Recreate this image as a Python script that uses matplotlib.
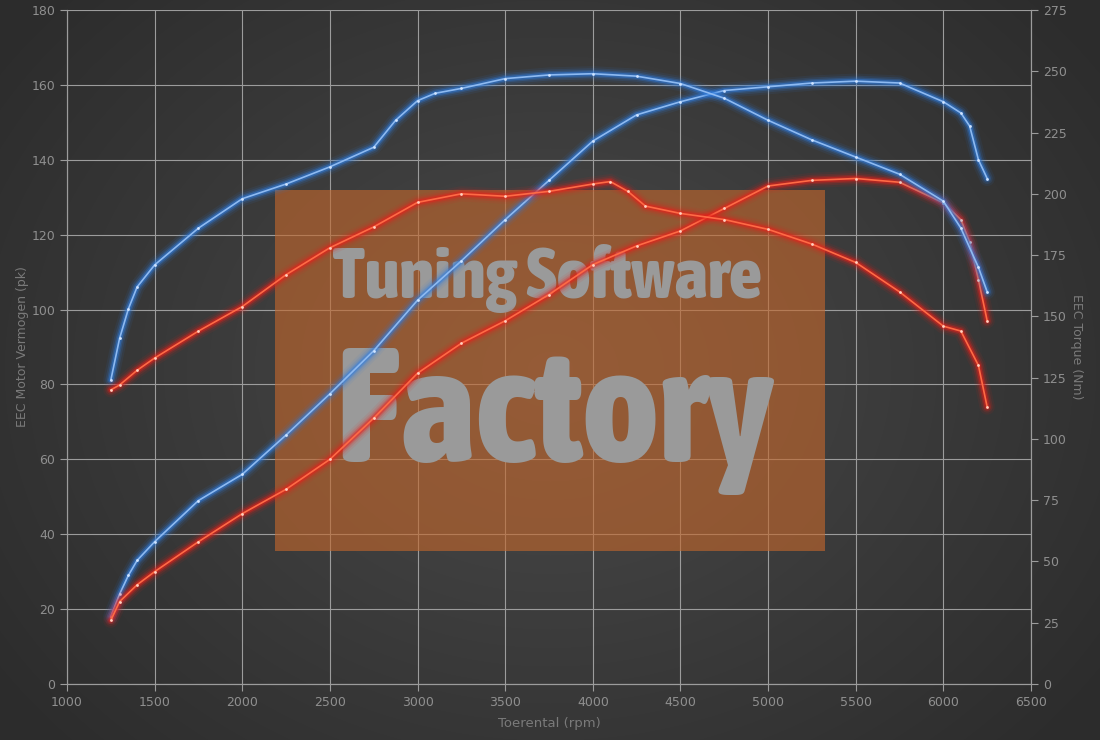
import numpy as np
import matplotlib
matplotlib.use("Agg")
import matplotlib.pyplot as plt
from matplotlib.patches import Rectangle
from matplotlib import font_manager as fm

# ---- data ----
rpm_blue_pwr = [1250, 1300, 1350, 1400, 1500, 1750, 2000, 2250, 2500, 2750, 3000, 3250, 3500, 3750,
                4000, 4250, 4500, 4750, 5000, 5250, 5500, 5750, 6000, 6100, 6150, 6200, 6250]
blue_pwr = [18, 24, 29, 33, 38, 49, 56, 66.5, 77.5, 89, 102.5, 113, 124, 134.5,
            145, 152, 155.5, 158.5, 159.5, 160.5, 161, 160.5, 155.5, 152.5, 149, 140, 135]

rpm_blue_trq = [1250, 1300, 1350, 1400, 1500, 1750, 2000, 2250, 2500, 2750, 2875, 3000, 3100, 3250,
                3500, 3750, 4000, 4250, 4500, 4750, 5000, 5250, 5500, 5750, 6000, 6100, 6200, 6250]
blue_trq = [124, 141, 153, 162, 171, 186, 198, 204, 211, 219, 230, 238, 241, 243,
            247, 248.5, 249, 248, 245, 239, 230, 222, 215, 208, 197, 186, 170, 160]

rpm_red_pwr = [1250, 1300, 1400, 1500, 1750, 2000, 2250, 2500, 2750, 3000, 3250, 3500, 3750,
               4000, 4250, 4500, 4750, 5000, 5250, 5500, 5750, 6000, 6100, 6150, 6200, 6250]
red_pwr = [17, 22, 26.5, 30, 38, 45.5, 52, 60, 71, 83, 91, 97, 104,
           112, 117, 121, 127, 133, 134.5, 135, 134, 128.5, 124, 118, 108, 97]

rpm_red_trq = [1250, 1300, 1400, 1500, 1750, 2000, 2250, 2500, 2750, 3000, 3250, 3500, 3750,
               4000, 4100, 4200, 4300, 4500, 4750, 5000, 5250, 5500, 5750, 6000, 6100, 6200, 6250]
red_trq = [120, 122, 128, 133, 144, 154, 167, 178, 186.5, 196.5, 200, 199, 201,
           204, 205, 201, 195, 192, 189.5, 185.5, 179.5, 172, 160, 146, 144, 130, 113]

x_ticks = list(range(1000, 6501, 500))
left_ticks = list(range(0, 181, 20))
right_ticks = list(range(0, 276, 25))

x_label = "Toerental (rpm)"
left_label = "EEC Motor Vermogen (pk)"
right_label = "EEC Torque (Nm)"
wm_line1 = "Tuning Software"
wm_line2 = "Factory"

# ---- figure ----
W, H = 1100, 740
fig = plt.figure(figsize=(W / 100, H / 100), dpi=100)

# radial gradient background
bg = fig.add_axes([0, 0, 1, 1], zorder=-10)
yy, xx = np.mgrid[0:H, 0:W]
r = np.sqrt(((xx - W * 0.5) / (W * 0.62)) ** 2 + ((yy - H * 0.5) / (H * 0.75)) ** 2)
r = np.clip(r, 0, 1)
c0 = np.array([0x4a, 0x4a, 0x4a]) / 255
c1 = np.array([0x2c, 0x2c, 0x2c]) / 255
img = c0[None, None, :] * (1 - r[..., None]) + c1[None, None, :] * r[..., None]
bg.imshow(img, aspect="auto", extent=[0, 1, 0, 1])
bg.set_axis_off()

L, R, B, T = 67 / W, 1031 / W, (H - 684) / H, (H - 10) / H
ax = fig.add_axes([L, B, R - L, T - B])
ax.patch.set_alpha(0)
ax2 = ax.twinx()
ax2.patch.set_alpha(0)

grid_c = "#9c9c9c"
tick_c = "#8f8f8f"
lab_c = "#7a7a7a"

ax.set_xlim(1000, 6500)
ax.set_ylim(0, 180)
ax2.set_ylim(0, 275)
ax.set_xticks(x_ticks)
ax.set_yticks(left_ticks)
ax2.set_yticks(right_ticks)
ax.grid(True, color=grid_c, linewidth=0.8, zorder=0)
ax.set_axisbelow(True)

for a in (ax, ax2):
    for s in a.spines.values():
        s.set_color(grid_c)
        s.set_linewidth(0.8)
    a.spines["top"].set_visible(False)
    a.tick_params(colors=grid_c, labelcolor=tick_c, labelsize=9, length=5, width=0.8)

ax.set_xlabel(x_label, color=lab_c, fontsize=9.5, labelpad=6)
ax.set_ylabel(left_label, color=lab_c, fontsize=9, labelpad=2)
ax2.set_ylabel(right_label, color=lab_c, fontsize=9, rotation=270, labelpad=12)

# watermark
rect = Rectangle((0.2158, 0.197), 0.570, 0.536, transform=ax.transAxes,
                 facecolor="#c4672c", alpha=0.62, edgecolor="none", zorder=1)
ax.add_patch(rect)


def pick_condensed():
    keys = ("condensed", "narrow", "compressed")
    cands = []
    for f in fm.fontManager.ttflist:
        fn = f.fname.lower()
        if any(k in fn for k in keys) and "oblique" not in fn and "italic" not in fn:
            w = f.weight if isinstance(f.weight, int) else 400
            cands.append((abs(w - 800), f.fname))
    if cands:
        cands.sort()
        return fm.FontProperties(fname=cands[0][1])
    return fm.FontProperties(family=["Roboto", "DejaVu Sans"], weight="bold")


wm_fp = pick_condensed()

t1 = ax.text(333 / W, (H - 298) / H, wm_line1, transform=fig.transFigure, fontproperties=wm_fp,
             fontsize=40, color="#9a9a9a", ha="left", va="baseline", zorder=2)
t2 = ax.text(335 / W, (H - 462) / H, wm_line2, transform=fig.transFigure, fontproperties=wm_fp,
             fontsize=100, color="#9a9a9a", ha="left", va="baseline", zorder=2)
fig.canvas.draw()
rend = fig.canvas.get_renderer()
for t, target in ((t1, 429), (t2, 438)):
    w = t.get_window_extent(rend).width
    t.set_fontsize(t.get_fontsize() * target / w)


def glow(a, x, y, glow_c, core_c, mark_c, z):
    for lw, al in [(11, 0.08), (8, 0.14), (5.5, 0.25), (3.5, 0.45)]:
        a.plot(x, y, color=glow_c, linewidth=lw, alpha=al, solid_capstyle="round",
               solid_joinstyle="round", zorder=z)
    a.plot(x, y, color=core_c, linewidth=1.2, zorder=z + 0.1, solid_joinstyle="round",
           marker="o", markersize=2, markerfacecolor=mark_c, markeredgewidth=0)


blue_glow, blue_core = "#2f7de0", "#8dbaf2"
red_glow, red_core = "#e8201a", "#ff6a45"

glow(ax, rpm_blue_pwr, blue_pwr, blue_glow, blue_core, "#d0e4ff", 5)
glow(ax, rpm_red_pwr, red_pwr, red_glow, red_core, "#ffd0c0", 6)
glow(ax2, rpm_blue_trq, blue_trq, blue_glow, blue_core, "#d0e4ff", 5)
glow(ax2, rpm_red_trq, red_trq, red_glow, red_core, "#ffd0c0", 6)

ax.set_zorder(2)
ax2.set_zorder(3)

fig.savefig("out.png", dpi=100)
